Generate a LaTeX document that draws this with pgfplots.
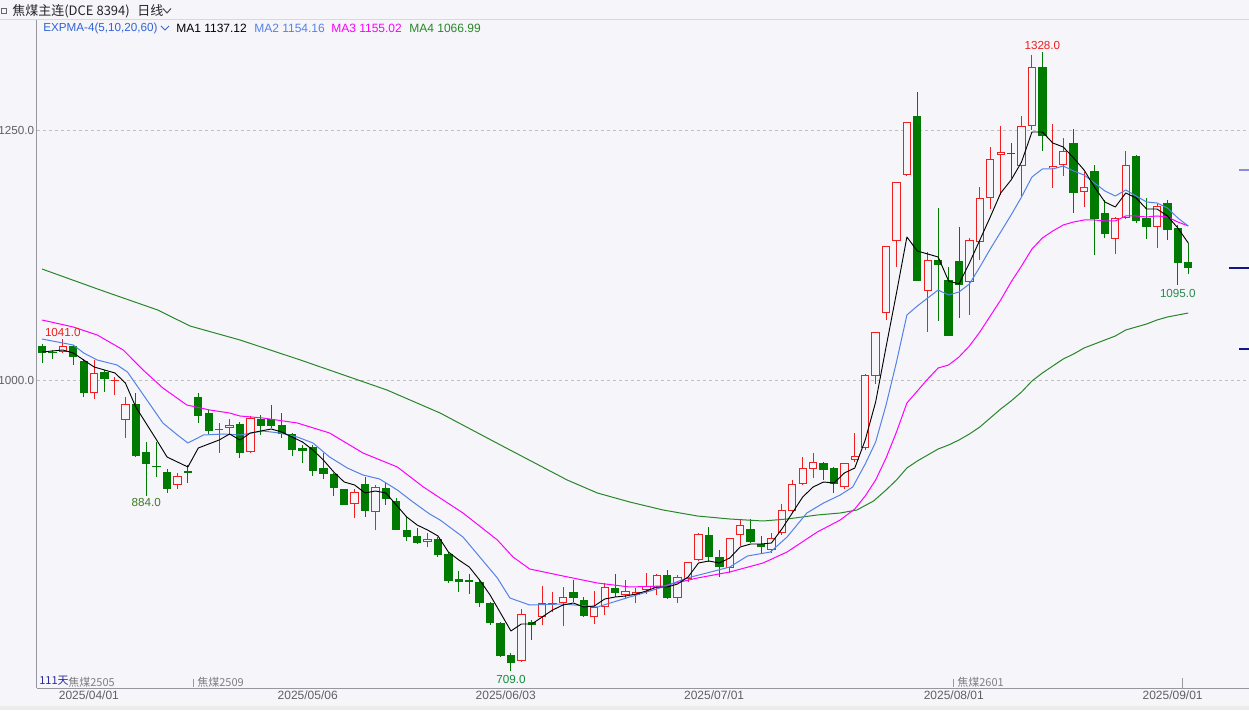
\documentclass[border=0pt]{standalone}
\usepackage{pgfplots}
\pgfplotsset{compat=1.18}
\usepackage{pgfplotstable}
\usepackage{fontspec}
\setmainfont{Liberation Sans}
\newfontfamily\cjk{Noto Sans CJK SC}
\definecolor{bg}{RGB}{245,245,250}
\definecolor{cred}{RGB}{240,30,30}
\definecolor{cgreen}{RGB}{0,122,0}
\definecolor{maone}{RGB}{0,0,0}
\definecolor{matwo}{RGB}{85,130,230}
\definecolor{mathree}{RGB}{255,0,255}
\definecolor{mafour}{RGB}{40,135,40}
\definecolor{lbl}{RGB}{95,95,100}
\definecolor{axisc}{RGB}{150,150,160}
\definecolor{expc}{RGB}{50,100,215}
\definecolor{lowA}{RGB}{60,125,30}
\definecolor{lowB}{RGB}{20,140,60}
\definecolor{lowC}{RGB}{40,140,80}
\definecolor{dayc}{RGB}{40,40,160}
\definecolor{mkA}{RGB}{140,140,220}
\definecolor{mkB}{RGB}{20,20,140}

\pgfplotstableread{
i o h l c
0 1034 1036 1017 1027
1 1028 1030 1021 1027
3 1034 1035 1015 1023
4 1019 1021 983 987
6 1008 1010 988 1001
9 976 987 923 924
10 928 938 884 916
11 914 938 903 913
12 908 911 887 891
14 909 915 897 907
15 983 987 957 964
16 967 970 946 949
19 956 958 922 927
21 961 965 945 954
22 961 975 952 954
23 955 967 942 946
24 946 947 924 930
25 932 935 917 929
26 933 935 904 909
27 912 927 901 906
28 906 907 884 892
29 891 891 875 875
31 896 903 863 869
33 892 897 875 881
34 879 882 850 850
35 850 864 839 843
36 844 852 836 837
38 841 843 823 825
39 826 828 797 799
40 801 809 788 798
41 800 806 786 798
42 798 800 773 777
43 777 778 755 757
44 757 758 723 724
45 725 727 709 717
47 758 760 740 755
51 788 800 778 782
52 780 783 763 764
55 792 806 783 787
60 805 810 781 782
64 845 853 818 823
65 823 830 803 813
68 851 861 837 838
69 836 844 827 833
75 917 918 900 910
76 912 913 887 896
84 1264 1288 1099 1099
86 1120 1172 1059 1115
87 1100 1113 1044 1044
88 1119 1153 1062 1095
93 1227 1237 1202 1226
96 1313 1328 1229 1244
99 1237 1251 1167 1187
101 1209 1215 1125 1161
102 1167 1180 1142 1146
105 1224 1225 1157 1159
106 1162 1182 1141 1153
108 1177 1180 1140 1150
109 1152 1155 1095 1117
110 1118 1137 1106 1112
}\down

\pgfplotstableread{
i o h l c
2 1028 1041 1027 1034
5 987 1020 981 1007
7 999 1003 985 1000
8 960 983 942 976
13 895 907 891 904
17 950 957 927 951
18 952 961 946 955
20 928 964 927 962
30 876 891 862 888
32 868 895 850 893
37 838 847 833 841
46 719 771 718 766
48 763 794 755 777
49 776 788 768 777
50 777 793 754 783
53 763 789 756 773
54 773 797 765 793
56 785 800 781 789
57 785 792 777 788
58 790 807 786 794
59 792 806 785 805
61 782 805 777 803
62 801 818 798 818
63 820 847 819 846
66 812 842 807 842
67 845 861 834 855
70 830 847 827 842
71 847 876 845 870
72 869 900 868 896
73 896 923 895 912
74 911 927 902 918
77 893 917 891 917
78 920 947 918 924
79 932 1006 930 1005
80 1004 1048 996 1048
81 1067 1134 1060 1134
82 1139 1198 1113 1198
83 1205 1258 1204 1258
85 1089 1128 1048 1120
89 1098 1142 1065 1140
90 1138 1193 1120 1182
91 1182 1233 1171 1221
92 1225 1254 1185 1228
94 1214 1264 1184 1254
95 1254 1325 1250 1313
97 1212 1256 1192 1214
98 1215 1242 1204 1229
100 1188 1208 1173 1193
103 1141 1163 1126 1162
104 1162 1229 1161 1215
107 1153 1176 1132 1174
}\up

\pgfplotstableread{
i v
0 1028
2 1030
3 1027
4 1020
5 1013
7 1007
8 997
9 973
11 940
12 923
14 913
15 932
17 940
18 946
19 940
20 947
22 951
23 948
24 943
25 938
26 930
27 920
28 908
29 898
30 895
31 887
32 889
33 887
34 875
35 863
36 855
37 850
38 844
39 828
40 820
41 813
42 800
43 785
44 767
45 749
46 756
47 756
48 763
49 770
50 775
51 777
52 773
53 774
54 781
55 783
56 784
57 786
58 789
59 793
60 793
61 796
62 803
63 817
64 819
65 817
66 822
67 833
68 836
69 836
70 837
71 851
72 867
73 883
74 893
75 898
76 897
77 907
78 912
79 940
80 978
81 1033
82 1087
83 1143
84 1129
85 1126
86 1123
87 1099
88 1096
89 1117
90 1140
91 1163
92 1187
93 1200
94 1218
95 1248
96 1248
97 1237
98 1233
99 1222
100 1210
101 1193
102 1178
103 1173
104 1187
105 1182
106 1171
107 1171
108 1164
109 1152
110 1137
}\maA

\pgfplotstableread{
i v
0 1041
3 1035
4 1027
5.3 1020
7.2 1015
8.2 1008
9.4 990
11.6 957
13 945
14 937
15.5 945
17.4 946
19 945
21.2 949
22.8 947
24.5 943
26 937
27.6 923
29.3 912
30.8 905
32.4 901
34.1 890
35.6 878
37.2 866
38.2 860
40.4 843
43.7 802
44.9 782
46.8 775
50 776
53.3 773
56.4 783
57.4 786
59.6 793
61.9 802
63.8 807
66 813
67.7 824
69.9 828
71.5 843
73.4 867
75 877
76.6 885
77.8 893
79 916
80 938
81 975
82 1018
83 1065
84 1074
85 1082
86 1090
87 1085
88 1088
89 1096
90 1113
91 1131
92 1148
93 1165
94 1183
95 1203
96 1211
97 1211
98 1214
99 1209
100 1205
101 1197
102 1189
103 1184
104 1190
105 1184
106 1178
107 1177
108 1172
109 1162
110 1154
}\maB

\pgfplotstableread{
i v
0 1060
3 1053
5.3 1045
7.8 1030
9.7 1010
11.6 992
13.9 975
16.1 970
18 967
19 964
21.2 962
24.5 957
27.6 947
30.8 927
34.1 913
36.6 893
38.2 882
40.4 867
43.7 840
45.2 823
46.8 811
50 804
53.3 797
56.4 793
59.6 794
62.9 802
66 808
69.2 817
71.5 828
74.4 848
76.6 860
78 871
79 884
80 900
81 922
82 948
83 977
84 989
85 1001
86 1012
87 1015
88 1023
89 1034
90 1048
91 1064
92 1080
93 1098
94 1114
95 1131
96 1142
97 1149
98 1155
99 1158
100 1160
101 1160
102 1159
103 1159
104 1164
105 1164
106 1163
107 1164
108 1163
109 1158
110 1154
}\maC

\pgfplotstableread{
i v
0 1111
5.6 1090
11.1 1070
14.2 1054
19 1040
24.8 1020
33.1 990
38.2 967
44 935
50.4 900
53.3 887
56.4 878
59.6 870
62.9 864
66 861
69.2 859
71.5 861
74.4 865
76.6 867
78.2 870
79.8 879
81 890
82 900
83 912
84 919
85 925
86 931
87 935
88 940
89 946
90 953
91 962
92 971
93 979
94 988
95 999
96 1007
97 1014
98 1021
99 1026
100 1032
101 1036
102 1040
103 1044
104 1050
105 1053
106 1056
107 1060
108 1063
109 1065
110 1067
}\maD

\begin{document}
\begin{tikzpicture}
\fill[bg] (0,0) rectangle (749.4pt,426pt);
\path[use as bounding box] (0,0) rectangle (749.4pt,426pt);
\begin{axis}[
  at={(22.2pt,13.2pt)}, anchor=south west,
  scale only axis, width=727.2pt, height=400.8pt,
  xmin=-0.48, xmax=115.83, ymin=692, ymax=1360,
  axis x line*=bottom, axis y line*=left,
  axis line style={draw=axisc, line width=0.6pt, -},
  major tick length=0pt,
  ytick={1000,1250}, yticklabels={1000.0,1250.0},
  yticklabel style={font=\fontsize{7}{8}\selectfont, text=lbl, inner sep=1.5pt},
  xtick={4.5,25.5,44.5,64.5,87.5,108.5},
  xticklabels={2025/04/01,2025/05/06,2025/06/03,2025/07/01,2025/08/01,2025/09/01},
  xticklabel style={font=\fontsize{7.2}{8}\selectfont, text=lbl, inner sep=1.5pt},
  ymajorgrids,
  grid style={draw=black!25, dash pattern=on 1.8pt off 1.8pt, line width=0.5pt},
  clip=false,
]
% green candles
\addplot[cgreen, line width=0.6pt, mark=none, forget plot,
  quiver={u=0, v=\thisrow{h}-\thisrow{l}}] table[x=i, y=l] {\down};
\addplot[cgreen, line width=5pt, mark=none, forget plot,
  quiver={u=0, v={max(\thisrow{o}-\thisrow{c},1)}}] table[x=i, y=c] {\down};
% red candles
\addplot[cred, line width=0.6pt, mark=none, forget plot,
  quiver={u=0, v=\thisrow{h}-\thisrow{l}}] table[x=i, y=l] {\up};
\addplot[cred, line width=5pt, mark=none, forget plot,
  quiver={u=0, v={max(\thisrow{c}-\thisrow{o},1)}}] table[x=i, y=o] {\up};
\addplot[bg, line width=3.8pt, mark=none, forget plot,
  quiver={u=0, v={max(\thisrow{c}-\thisrow{o}-1.8,0)}}] table[x=i, y expr=\thisrow{o}+0.9] {\up};
% moving averages
\addplot[mafour, line width=0.6pt, mark=none, line join=round] table[x=i, y=v] {\maD};
\addplot[mathree, line width=0.6pt, mark=none, line join=round] table[x=i, y=v] {\maC};
\addplot[matwo, line width=0.6pt, mark=none, line join=round] table[x=i, y=v] {\maB};
\addplot[maone, line width=0.55pt, mark=none, line join=round] table[x=i, y=v] {\maA};
% extreme labels
\node[anchor=south, text=cred, font=\fontsize{7}{8}\selectfont, inner sep=1pt] at (axis cs:2,1041) {1041.0};
\node[anchor=north, text=lowA, font=\fontsize{7}{8}\selectfont, inner sep=1.5pt] at (axis cs:10,884) {884.0};
\node[anchor=north, text=lowB, font=\fontsize{7}{8}\selectfont, inner sep=2.2pt] at (axis cs:45,709) {709.0};
\node[anchor=south, text=cred, font=\fontsize{7}{8}\selectfont, inner sep=1pt] at (axis cs:96,1328) {1328.0};
\node[anchor=north, text=lowC, font=\fontsize{7}{8}\selectfont, inner sep=2.2pt] at (axis cs:109,1095) {1095.0};
\end{axis}
\begin{scope}[x=0.6pt, y=-0.6pt, shift={(0pt,426pt)}]
  % title bar
  \draw[black!15, line width=0.6pt] (0,20) -- (1249,20);
  \draw[black!60, line width=0.5pt] (1,8) rectangle (6,13);
  \node[anchor=west, inner sep=0, font=\cjk\fontsize{7.8}{9}\selectfont, text=black!85] at (12,11) {焦煤主连(DCE 8394)};
  \node[anchor=west, inner sep=0, font=\cjk\fontsize{7.8}{9}\selectfont, text=black!85] at (137,11) {日线};
  \draw[black!70, line width=0.6pt] (163,8.5) -- (167,13) -- (171,8.5);
  % legend
  \node[anchor=west, inner sep=0, font=\fontsize{7}{8}\selectfont, text=expc] at (43,28) {EXPMA-4(5,10,20,60)};
  \draw[expc, line width=0.6pt] (161,26) -- (165,30) -- (169,26);
  \node[anchor=west, inner sep=0, font=\fontsize{7.2}{8}\selectfont, text=black] at (176,28) {MA1 1137.12};
  \node[anchor=west, inner sep=0, font=\fontsize{7.2}{8}\selectfont, text=matwo] at (254,28) {MA2 1154.16};
  \node[anchor=west, inner sep=0, font=\fontsize{7.2}{8}\selectfont, text=mathree] at (331,28) {MA3 1155.02};
  \node[anchor=west, inner sep=0, font=\fontsize{7.2}{8}\selectfont, text=mafour] at (409,28) {MA4 1066.99};
  % contract markers
  \node[anchor=west, inner sep=0, font=\cjk\fontsize{6.6}{8}\selectfont, text=dayc] at (39,681) {111天};
  \node[anchor=west, inner sep=0, font=\cjk\fontsize{6.6}{8}\selectfont, text=black!50] at (68,682) {焦煤2505};
  \draw[black!40, line width=0.5pt] (193,679) -- (193,687);
  \node[anchor=west, inner sep=0, font=\cjk\fontsize{6.6}{8}\selectfont, text=black!50] at (197,682) {焦煤2509};
  \draw[black!40, line width=0.5pt] (953,679) -- (953,687);
  \node[anchor=west, inner sep=0, font=\cjk\fontsize{6.6}{8}\selectfont, text=black!50] at (957,682) {焦煤2601};
  \draw[black!40, line width=0.5pt] (1182,678) -- (1182,688);
  % right side price markers
  \draw[mkA, line width=0.8pt] (1239,170) -- (1249,170);
  \draw[mkB, line width=0.8pt] (1229,268) -- (1249,268);
  \draw[mkB, line width=0.8pt] (1239,349) -- (1249,349);
  % bottom strip
  \fill[black!8] (0,706) rectangle (1249,710);
\end{scope}
\end{tikzpicture}
\end{document}
